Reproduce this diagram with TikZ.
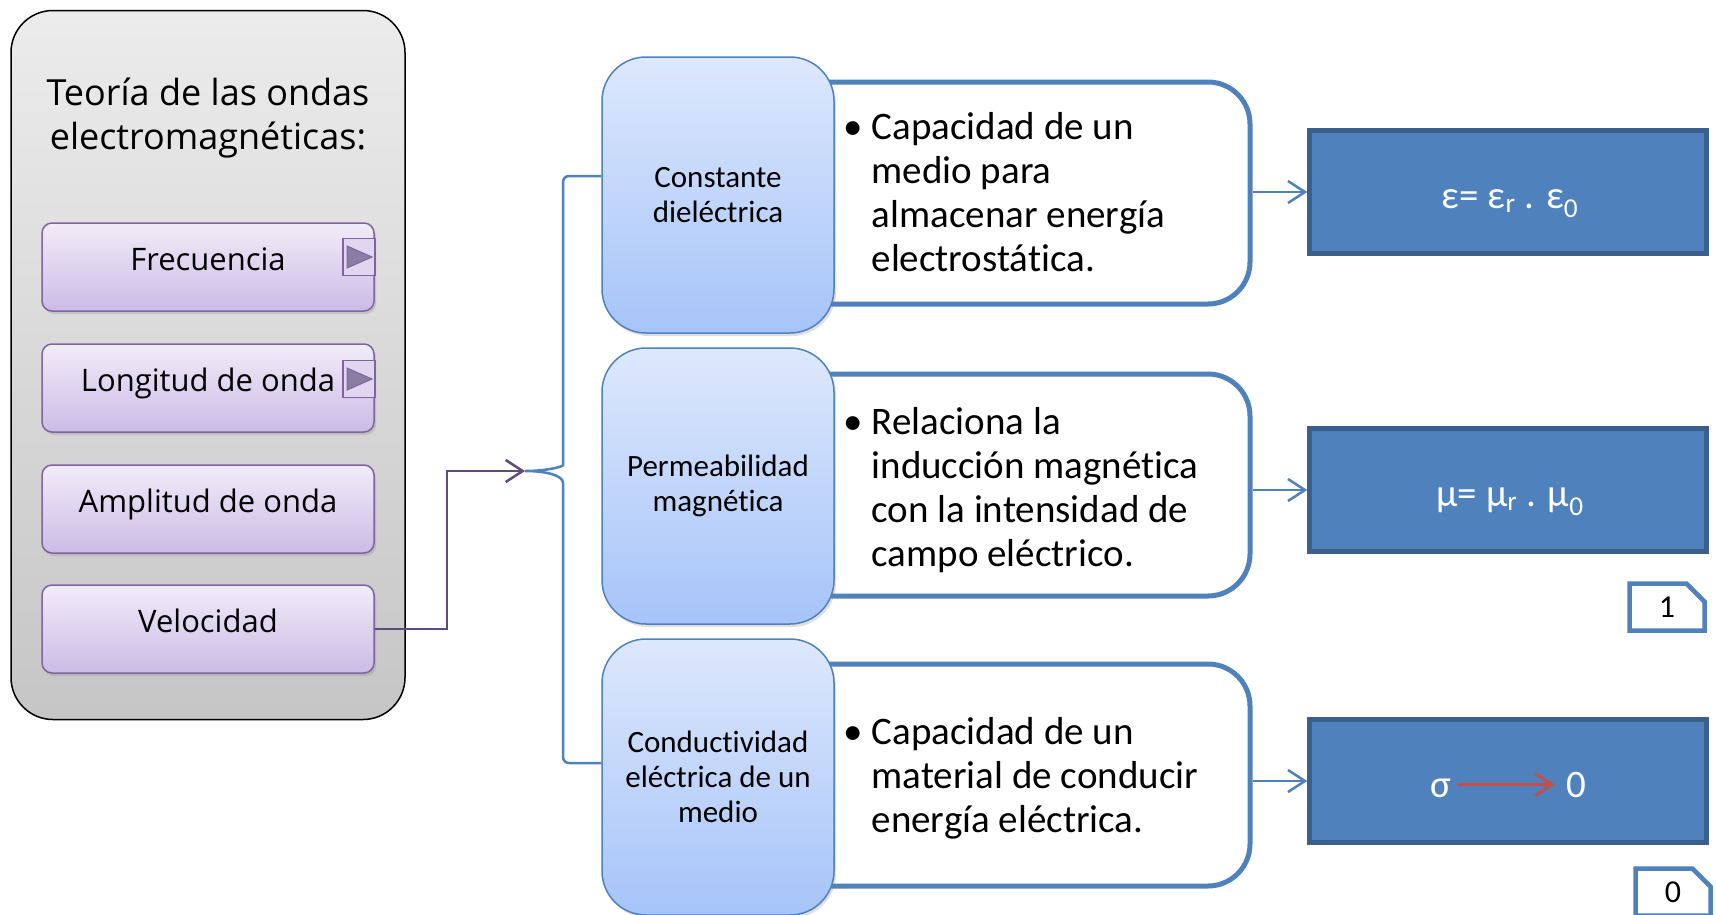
\documentclass[tikz,border=0pt]{standalone}
\usepackage{fontspec}
\setmainfont{Carlito}[Ligatures=NoCommon]
\newfontfamily\panelfont{Open Sans}
\usepackage{tikz}
\usetikzlibrary{shapes.misc,arrows.meta,positioning,shadows,calc}
\usepackage{xcolor}

\definecolor{accblue}{HTML}{4F81BD}
\definecolor{deepblue}{HTML}{3A5F8B}
\definecolor{paleblue}{HTML}{DDE8FC}
\definecolor{midblue}{HTML}{A6C4F9}
\definecolor{lilac}{HTML}{F1ECF8}
\definecolor{lavender}{HTML}{CCBBE6}
\definecolor{violet}{HTML}{8064A2}
\definecolor{plum}{HTML}{604A7B}
\definecolor{greyplum}{HTML}{8A7CA3}
\definecolor{brick}{HTML}{C0504D}

\tikzset{
  panel/.style={draw=black, line width=1.5pt, rounded corners=42pt,
    top color=gray!15, bottom color=gray!45,
    minimum width=394pt, minimum height=709pt, inner sep=0pt},
  item/.style={draw=violet, line width=1.5pt, rounded corners=10pt,
    top color=lilac, bottom color=lavender,
    minimum width=332pt, minimum height=88pt, inner sep=0pt,
    text height=22pt, text depth=16pt,
    font=\panelfont\fontsize{31}{37}\selectfont,
    drop shadow={shadow xshift=2pt, shadow yshift=-3pt, opacity=0.25}},
  button/.style={draw=violet, line width=1.5pt, fill=lavender!60,
    minimum width=32pt, minimum height=37pt, inner sep=0pt},
  tri/.style={draw=violet, line width=1pt, fill=greyplum},
  topic/.style={draw=accblue, line width=1.5pt, rounded corners=44pt,
    top color=paleblue, bottom color=midblue,
    minimum width=232pt, minimum height=276pt, inner sep=0pt,
    align=center, font=\fontsize{31}{35}\selectfont,
    drop shadow={shadow xshift=2pt, shadow yshift=-3pt, opacity=0.25}},
  info/.style={draw=accblue, line width=5pt, rounded corners=42pt, fill=white,
    minimum width=460pt, minimum height=222pt, inner sep=0pt},
  bullets/.style={inner sep=0pt, font=\fontsize{39}{44}\selectfont},
  formula/.style={draw=deepblue, line width=4.5pt, fill=accblue,
    minimum width=397pt, minimum height=123pt, inner sep=0pt},
  eq/.style={anchor=base, text=white, inner sep=6pt, font=\fontsize{39}{46}\selectfont},
  tag/.style={chamfered rectangle, chamfered rectangle corners=north east,
    chamfered rectangle xsep=10pt, chamfered rectangle ysep=10pt,
    draw=accblue, line width=4.5pt, fill=white,
    minimum width=75pt, minimum height=47pt, inner sep=0pt,
    font=\fontsize{32}{36}\selectfont},
  brace/.style={draw=accblue, line width=2.5pt},
  arr/.style={draw=accblue, line width=2.5pt, -{Straight Barb[length=17pt,width=22pt]}},
  purplearrow/.style={draw=plum, line width=2.5pt, -{Straight Barb[length=17pt,width=22pt]}},
  redarrow/.style={draw=brick, line width=3pt, -{Straight Barb[length=17pt,width=22pt]}}
}

\begin{document}
\begin{tikzpicture}[x=1pt, y=-1pt]
    \useasboundingbox (0,0) rectangle (1716,914);

    % Left panel
    \node[panel] (teoria) at (208,365) {};
    \node[align=center, font=\panelfont\fontsize{36}{44}\selectfont] (titulo) at (208,118)
        {Teoría de las ondas\\electromagnéticas:};

    \node[item] (frec) at (208,267) {Frecuencia};
    \node[item] (longi) at (208,388) {Longitud de onda};
    \node[item] (ampli) at (208,509) {Amplitud de onda};
    \node[item] (veloc) at (208,629) {Velocidad};

    % little play buttons
    \node[button] (frecbtn) at (359,257) {};
    \draw[tri] ($(frecbtn.center)+(-12,-11)$) -- ++(25,11) -- ++(-25,11) -- cycle;
    \node[button] (longibtn) at (359,379) {};
    \draw[tri] ($(longibtn.center)+(-12,-11)$) -- ++(25,11) -- ++(-25,11) -- cycle;

    % Descriptions (behind the topic boxes)
    \node[info] (cteinfo) at (1020,193) {};
    \node[info] (perminfo) at (1020,485) {};
    \node[info] (condinfo) at (1020,775) {};

    % Topics
    \node[topic] (cte) at (718,195) {Constante\\dieléctrica};
    \node[topic] (perm) at (718,486) {Permeabilidad\\magnética};
    \node[topic] (cond) at (718,777) {Conductividad\\eléctrica de un\\medio};

    \node[bullets, anchor=west] (ctetext) at (843,197)
        {\begin{tabular}{@{}l@{\hspace{9pt}}l@{}}\textbullet & Capacidad de un\\ & medio para\\ & almacenar energía\\ & electrostática.\end{tabular}};
    \node[bullets, anchor=west] (permtext) at (843,492)
        {\begin{tabular}{@{}l@{\hspace{9pt}}l@{}}\textbullet & Relaciona la\\ & inducción magnética\\ & con la intensidad de\\ & campo eléctrico.\end{tabular}};
    \node[bullets, anchor=west] (condtext) at (843,780)
        {\begin{tabular}{@{}l@{\hspace{9pt}}l@{}}\textbullet & Capacidad de un\\ & material de conducir\\ & energía eléctrica.\end{tabular}};

    % Formulas
    \node[formula] (cteform) at (1508,192) {};
    \node[formula] (permform) at (1508,490) {};
    \node[formula] (condform) at (1508,781) {};
    \node[eq] (cteeq) at (1510,208) {ε= ε\textsubscript{r} . ε\textsubscript{0}};
    \node[eq] (permeq) at (1510,506) {μ= μ\textsubscript{r} . μ\textsubscript{0}};
    \node[eq] (sig) at (1441,797) {σ};
    \node[eq] (zero) at (1576,797) {0};
    \draw[redarrow, shorten >=5pt] (sig.east |- zero.west) -- (zero.west);

    \draw[arr] (cteform.west -| cteinfo.east) -- (cteform.west);
    \draw[arr] (permform.west -| perminfo.east) -- (permform.west);
    \draw[arr] (condform.west -| condinfo.east) -- (condform.west);

    % Tags
    \node[tag] (tagone) at (1667,607) {1};
    \node[tag] (tagzero) at (1673,892) {0};

    % Brace and link from Velocidad
    \coordinate (bracetip) at (525,471);
    \draw[brace, rounded corners=6pt] (cte.west |- 0,176) -| (563,459) [sharp corners]
        .. controls (563,467) and (545,471) .. (bracetip)
        .. controls (545,471) and (563,475) .. (563,483) [rounded corners=6pt]
        |- (cond.west |- 0,763);
    \draw[purplearrow] (veloc.east) -- ++(72,0) |- (bracetip);
\end{tikzpicture}
\end{document}
